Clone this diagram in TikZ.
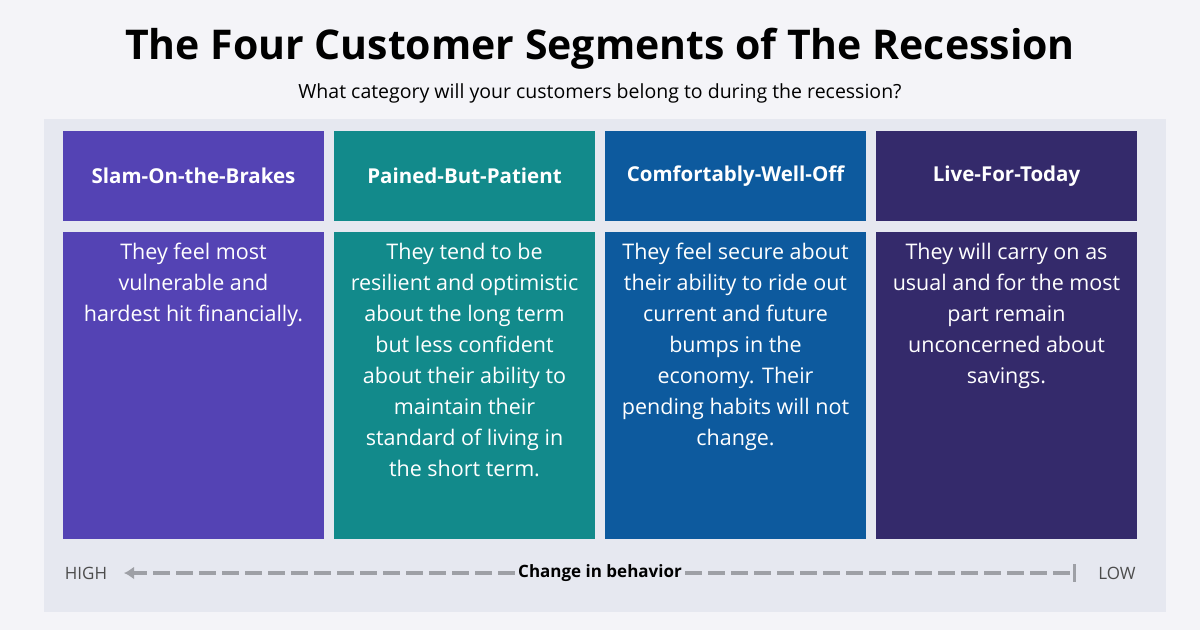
\documentclass[tikz,border=0pt]{standalone}
\usepackage{fontspec}
\setmainfont{Open Sans}
\usetikzlibrary{arrows.meta}
\definecolor{bgc}{HTML}{F4F4F8}
\definecolor{panel}{HTML}{E6E8F0}
\definecolor{cA}{HTML}{5443B4}
\definecolor{cB}{HTML}{128A8B}
\definecolor{cC}{HTML}{0D5A9E}
\definecolor{cD}{HTML}{342A6B}
\definecolor{arr}{HTML}{9EA0A6}
\tikzset{
 head/.style={fill=#1,minimum width=261pt,minimum height=90pt,inner sep=0pt,text=white,font=\fontsize{20.5}{24}\selectfont\bfseries},
 body/.style={fill=#1,minimum width=261pt,minimum height=307pt,inner sep=0pt,text=white},
 btxt/.style={text=white,align=center,anchor=north,inner sep=0pt,font=\fontsize{21.5}{31}\selectfont},
}
\begin{document}
\begin{tikzpicture}[x=1pt,y=-1pt]
\fill[bgc] (0,0) rectangle (1200,630);
\useasboundingbox (0,0) rectangle (1200,630);
\fill[panel] (44,119) rectangle (1166,612);
\node[font=\fontsize{41}{46}\selectfont\bfseries] (title) at (600,49) {The Four Customer Segments of The Recession};
\node[font=\fontsize{19.5}{22}\selectfont] (sub) at (600,93) {What category will your customers belong to during the recession?};
\foreach \n/\x/\c/\h/\t in {a/193.5/cA/Slam-On-the-Brakes/{They feel most\\vulnerable and\\hardest hit financially.},
 b/464.5/cB/Pained-But-Patient/{They tend to be\\resilient and optimistic\\about the long term\\but less confident\\about their ability to\\maintain their\\standard of living in\\the short term.},
 c/735.5/cC/Comfortably-Well-Off/{They feel secure about\\their ability to ride out\\current and future\\bumps in the\\economy. Their\\pending habits will not\\change.},
 d/1006.5/cD/Live-For-Today/{They will carry on as\\usual and for the most\\part remain\\unconcerned about\\savings.}}{
 \node[head=\c] (h\n) at (\x,176) {\h};
 \node[body=\c] (b\n) at (\x,385.5) {};
 \node[btxt] (t\n) at (\x,243) {\t};
}
\node[font=\fontsize{17}{20}\selectfont\bfseries] (chg) at (600,573) {Change in behavior};
\node[font=\fontsize{17}{20}\selectfont,text=black!70] (high) at (86,573) {HIGH};
\node[font=\fontsize{17}{20}\selectfont,text=black!70] (low) at (1117,573) {LOW};
\coordinate (l) at (124,573);
\coordinate (r) at (1074,573);
\draw[arr,line width=4pt,dash pattern=on 17pt off 6pt,-{Latex[length=10pt,width=13pt]}] (chg.west) -- (l);
\draw[arr,line width=4pt,dash pattern=on 17pt off 6pt] (chg.east) -- (r);
\draw[arr,line width=3pt] (1074,564) -- (1074,582);
\end{tikzpicture}
\end{document}
